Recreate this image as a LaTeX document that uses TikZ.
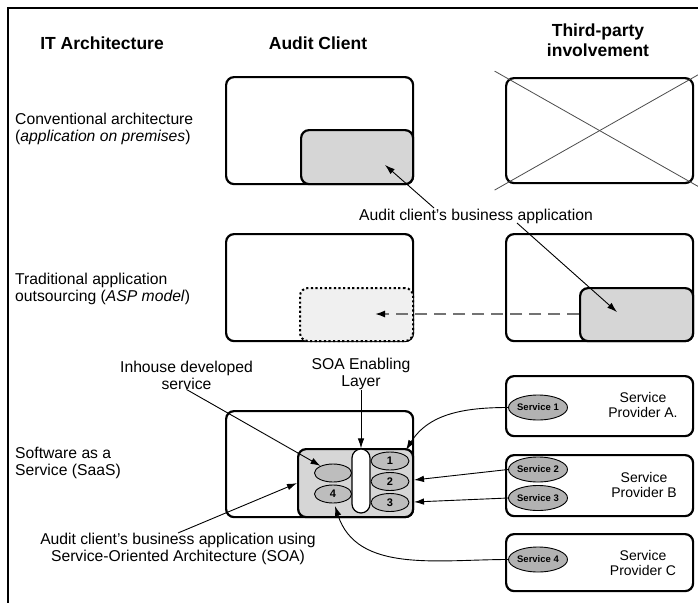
\documentclass[tikz,border=0pt]{standalone}
\usepackage{fontspec}
\setmainfont{Liberation Sans}
\usetikzlibrary{arrows.meta,shapes.geometric,calc}
\begin{document}
\begin{tikzpicture}[x=1pt,y=-1pt,
  every node/.style={font=\fontsize{15.7}{17}\selectfont, inner sep=0pt},
  hdr/.style={font=\fontsize{17.5}{19.5}\selectfont\bfseries, align=center},
  rowlbl/.style={anchor=west, align=left},
  box/.style={draw, line width=2.2pt, rounded corners=8pt, anchor=north west},
  appbox/.style={box, fill=black!16},
  dotbox/.style={draw, line width=2pt, dash pattern=on 2.2pt off 2.4pt, rounded corners=8pt, fill=black!6, anchor=north west},
  oval/.style={ellipse, draw, line width=0.9pt, fill=black!26, minimum width=37pt, minimum height=18pt, font=\fontsize{11}{12}\selectfont\bfseries},
  svc/.style={ellipse, draw, line width=0.9pt, fill=black!30, minimum width=55pt, minimum height=25pt, font=\fontsize{9.5}{11}\selectfont\bfseries},
  provtxt/.style={align=center, font=\fontsize{14}{15.5}\selectfont},
  arr/.style={line width=0.9pt, -{Latex[length=10pt,width=6.5pt]}},
  crossline/.style={line width=0.8pt, black!70}
]
\fill[white] (0,0) rectangle (698,602);
\useasboundingbox (0,0) rectangle (698,602);
% frame
\draw[line width=2pt] (8,604) -- (8,8) -- (700,8);

% headers
\node[hdr] (h1) at (102,43) {IT Architecture};
\node[hdr] (h2) at (318,43) {Audit Client};
\node[hdr] (h3) at (598,40) {Third-party\\involvement};

% row labels
\node[rowlbl] (r1) at (15,128.5) {Conventional architecture\\(\textit{application on premises})};
\node[rowlbl] (r2) at (15,288.5) {Traditional application\\outsourcing (\textit{ASP model})};
\node[rowlbl] (r3) at (15,462.5) {Software as a\\Service (SaaS)};

% row 1
\node[box, minimum width=187pt, minimum height=107pt] (c1) at (225,76) {};
\node[appbox, minimum width=112pt, minimum height=54pt] (a1) at (300,129) {};
\node[box, minimum width=187pt, minimum height=105pt] (t1) at (505,77) {};
\draw[crossline] ($(t1.north west)!-0.055!(t1.south east)$) -- ($(t1.north west)!1.06!(t1.south east)$);
\draw[crossline] ($(t1.south west)!-0.055!(t1.north east)$) -- ($(t1.south west)!1.06!(t1.north east)$);

% middle label
\node (mid) at (476,216) {Audit client’s business application};
\coordinate (m1) at (434,208);
\coordinate (p1) at (385,165);
\coordinate (m2) at (517,223);
\coordinate (p2) at (617,312);
\draw[arr] (m1) -- (p1);

% row 2
\node[box, minimum width=187pt, minimum height=107pt] (c2) at (225,233) {};
\node[dotbox, minimum width=113pt, minimum height=53pt] (a2) at (299,287) {};
\node[box, minimum width=187pt, minimum height=107pt] (t2) at (505,233) {};
\node[appbox, minimum width=113pt, minimum height=53pt] (g2) at (579,287) {};
\draw[arr] (m2) -- (p2);
\coordinate (d2) at (375,314);
\draw[line width=1.6pt, black!55, dash pattern=on 12pt off 7pt, -{Latex[length=10pt,width=7pt,black]}] (g2.west |- d2) -- (d2);

% row 3
\node[box, minimum width=187pt, minimum height=106pt] (c3) at (225,410) {};
\node[appbox, minimum width=115pt, minimum height=68pt] (a3) at (297,448) {};
\node[oval] (e0) at (333,473) {};
\node[oval] (e4) at (333,494) {4};
\node[draw, fill=white, line width=1.2pt, rounded corners=9pt, minimum width=18pt, minimum height=64pt] (pill) at (361,481) {};
\node[oval, minimum width=38pt] (e1) at (390,461) {1};
\node[oval, minimum width=38pt] (e2) at (390,481.5) {2};
\node[oval, minimum width=38pt] (e3) at (390,502.5) {3};

\node[align=center] (inh) at (186.5,375) {Inhouse developed\\service};
\node[align=center] (soa) at (361,373.5) {SOA Enabling\\Layer};
\draw[arr] (inh.south) -- (e0);
\draw[arr] (soa.south) -- (pill.north);

\node[align=center] (lbl3) at (178,549) {Audit client’s business application using\\Service-Oriented Architecture (SOA)};
\draw[arr] (lbl3.north) -- (a3.west);

% providers
\node[box, minimum width=187pt, minimum height=60pt] (pa) at (505,375) {};
\node[box, minimum width=187pt, minimum height=61pt] (pb) at (505,454) {};
\node[box, minimum width=187pt, minimum height=57pt] (pc) at (505,533) {};
\node[svc] (s1) at (538,407.5) {Service 1};
\node[svc] (s2) at (538,469.5) {Service 2};
\node[svc] (s3) at (538,498) {Service 3};
\node[svc] (s4) at (538,559.5) {Service 4};
\node[provtxt] (ta) at (643,405) {Service\\Provider A.};
\node[provtxt] (tb) at (644,485) {Service\\Provider B};
\node[provtxt] (tc) at (643,563) {Service\\Provider C};

\coordinate (q1) at (406,450);
\coordinate (q2) at (414,480);
\coordinate (q3) at (414,502);
\coordinate (q4) at (335,506);
\draw[arr] (s1.west) to[out=180,in=58] (q1);
\draw[arr] (s2.west) -- (q2);
\draw[arr] (s3.west) -- (q3);
\draw[arr] (s4.west) to[out=180,in=-72] (q4);
\end{tikzpicture}
\end{document}
